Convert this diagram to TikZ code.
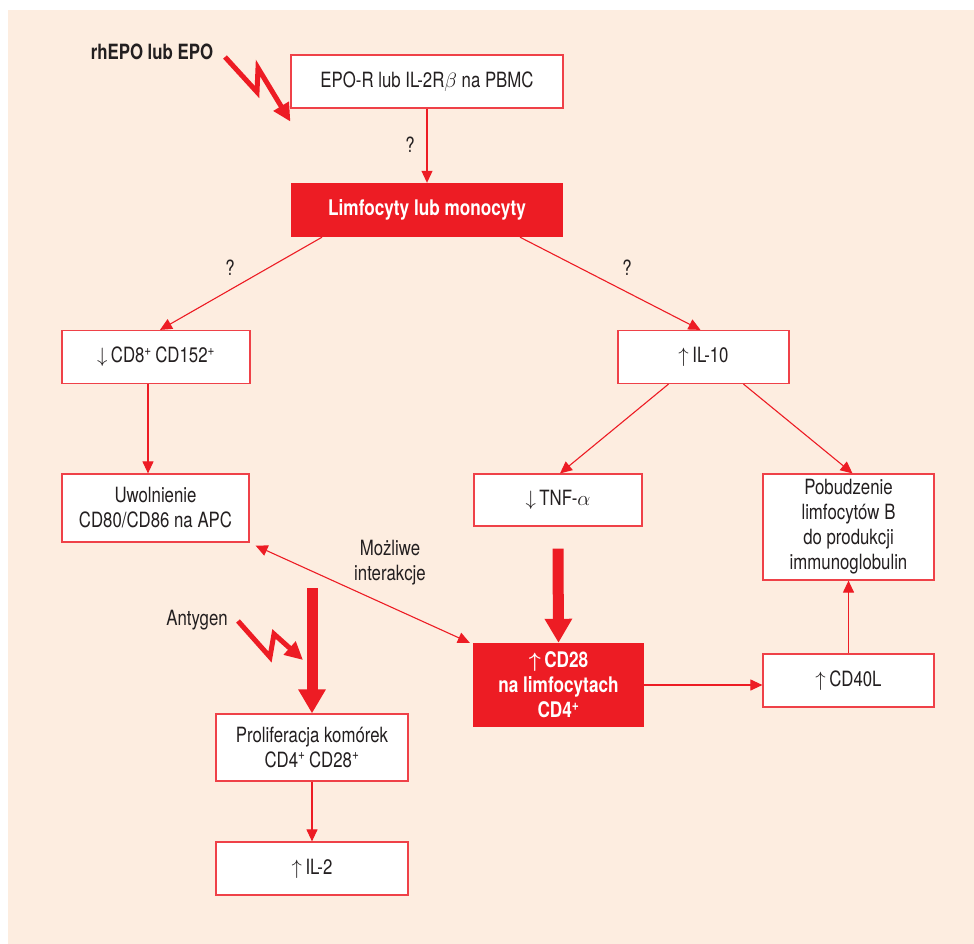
\documentclass[tikz,border=0pt]{standalone}
\usepackage{amsmath,amssymb}
\usepackage{fontspec}
\setmainfont{TeX Gyre Heros}[FakeStretch=0.8]
\usepackage{tikz}
\usetikzlibrary{arrows.meta,positioning,calc}
\definecolor{figred}{RGB}{237,28,36}
\definecolor{boxline}{RGB}{239,65,72}
\definecolor{peach}{RGB}{253,237,224}
\definecolor{inktext}{RGB}{35,31,32}

\begin{document}
\begin{tikzpicture}[x=1pt, y=-1pt,
    every node/.style={text=inktext, font=\fontsize{21}{25}\selectfont},
    box/.style={draw=boxline, line width=1.2pt, fill=white, inner sep=0pt, align=center},
    redbox/.style={fill=figred, inner sep=0pt, align=center, text=white,
        font=\fontsize{21.5}{25}\selectfont\bfseries\boldmath},
    link/.style={draw=figred, line width=1.1pt, -{Triangle[length=12pt,width=11pt]}},
    bigarrow/.style={draw=figred, line width=11pt, -{Triangle[length=24pt,width=26pt]}},
    bolt/.style={draw=figred, line width=5pt, miter limit=20, -{Triangle[length=18pt,width=17pt]}}]
    \useasboundingbox (0,0) rectangle (974,944);
    \fill[white] (0,0) rectangle (974,944);
    \fill[peach] (8,10) rectangle (974,944);

    % top
    \node[box, minimum width=272pt, minimum height=53pt] (epor) at (427,81.5) {EPO-R lub IL-2R$\beta$ na PBMC};
    \node[redbox, minimum width=272pt, minimum height=54pt] (limf) at (427,210) {Limfocyty lub monocyty};
    \node[font=\fontsize{21}{25}\selectfont\bfseries] (rhepo) at (152,52) {rhEPO lub EPO};
    \node (q1) at (410,145) {?};

    % left branch
    \node[box, minimum width=188pt, minimum height=53pt] (cd8) at (156,357) {$\downarrow$\,CD8\textsuperscript{+}\,CD152\textsuperscript{+}};
    \node[box, minimum width=187pt, minimum height=68pt] (uwol) at (155.5,508) {Uwolnienie\\CD80/CD86 na APC};
    \node (q2) at (230,268) {?};

    % right branch
    \node[box, minimum width=171pt, minimum height=53pt] (il10) at (703.5,357) {$\uparrow$\,IL-10};
    \node[box, minimum width=168pt, minimum height=52pt] (tnf) at (558,500) {$\downarrow$\,TNF-$\alpha$};
    \node[box, minimum width=171pt, minimum height=106pt] (pob) at (848.5,527) {Pobudzenie\\limfocytów B\\do produkcji\\immunoglobulin};
    \node (q3) at (627,268) {?};

    % bottom
    \node[redbox, minimum width=171pt, minimum height=84pt] (cd28) at (558.5,685) {$\uparrow$\,CD28\\na limfocytach\\CD4\textsuperscript{+}};
    \node[box, minimum width=171pt, minimum height=53pt] (cd40) at (848.5,680.5) {$\uparrow$\,CD40L};
    \node[box, minimum width=192pt, minimum height=67pt] (prol) at (312,747.5) {Proliferacja komórek\\CD4\textsuperscript{+}\,CD28\textsuperscript{+}};
    \node[box, minimum width=192pt, minimum height=53pt] (il2) at (312,868.5) {$\uparrow$\,IL-2};
    \node[align=center] (mozl) at (390,563) {Możliwe\\interakcje};
    \node (antyg) at (197,620) {Antygen};

    % connectors
    \draw[link] (epor) -- (limf);
    \draw[link] ([xshift=-105pt]limf.south) -- ([xshift=4pt]cd8.north);
    \draw[link] ([xshift=93pt]limf.south) -- ([xshift=-3pt]il10.north);
    \draw[link] ([xshift=-8pt]cd8.south) -- ([xshift=-7.5pt]uwol.north);
    \draw[link] ([xshift=-35pt]il10.south) -- ([xshift=2pt]tnf.north);
    \draw[link] ([xshift=40pt]il10.south) -- ([xshift=4pt]pob.north);
    \draw[link, {Triangle[length=12pt,width=11pt]}-{Triangle[length=12pt,width=11pt]}]
        ([xshift=6pt,yshift=-3pt]uwol.south east) -- ([xshift=-3pt]cd28.north west);
    \draw[link] (cd28.east) -- (cd28.east -| cd40.west);
    \draw[link] (cd40) -- (pob);
    \draw[link] (prol) -- (il2);

    % thick arrows
    \draw[bigarrow] ([yshift=-22pt]tnf.south) -- (cd28.north);
    \coordinate (thk) at (312,588);
    \draw[bigarrow] (thk) -- (prol.north);

    % lightning
    \coordinate (b1) at (225,57);
    \draw[bolt] (b1) -- ++(32,35) -- ++(1,-24) -- ([yshift=-13pt]epor.south west);
    \coordinate (b2) at (238,621);
    \coordinate (b2tip) at (303,660);
    \draw[bolt] (b2) -- ++(32,36) -- ++(4,-23) -- (b2tip);
\end{tikzpicture}
\end{document}
